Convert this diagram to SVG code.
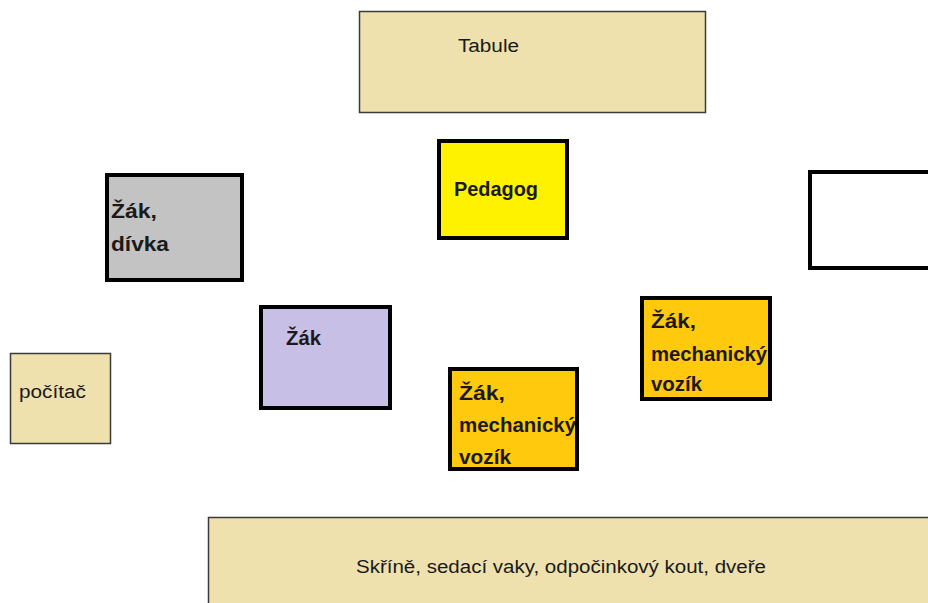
<svg xmlns="http://www.w3.org/2000/svg" width="928" height="603" viewBox="0 0 928 603">
<style>
.furn{fill:#EEE1AE;stroke:#3a3a3a;stroke-width:1.5}
.desk{stroke:#000;stroke-width:4}
.t{font-family:"Liberation Sans",Arial,sans-serif;fill:#1a1a1a}
.b{font-weight:bold;font-size:20px}
.n{font-size:18px}
</style>
<rect width="928" height="603" fill="#fff"/>
<g id="tabule">
<rect class="furn" x="359.5" y="11.5" width="346" height="101"/>
<text class="t n" x="458" y="52" textLength="61" lengthAdjust="spacingAndGlyphs">Tabule</text>
</g>
<g id="pedagog">
<rect class="desk" x="439" y="141" width="128" height="97" fill="#FFF200"/>
<text class="t b" x="454" y="196" textLength="84" lengthAdjust="spacingAndGlyphs">Pedagog</text>
</g>
<g id="zak-divka">
<rect class="desk" x="107" y="175" width="135" height="105" fill="#C3C3C3"/>
<text class="t b" x="111" y="218" textLength="46" lengthAdjust="spacingAndGlyphs">Žák,</text>
<text class="t b" x="111" y="251" textLength="58" lengthAdjust="spacingAndGlyphs">dívka</text>
</g>
<g id="prazdny">
<rect class="desk" x="810" y="172" width="130" height="96" fill="#fff"/>
</g>
<g id="zak">
<rect class="desk" x="261" y="307" width="129" height="101" fill="#C8BFE6"/>
<text class="t b" x="286" y="345" textLength="35" lengthAdjust="spacingAndGlyphs">Žák</text>
</g>
<g id="zak-vozik-1">
<rect class="desk" x="642" y="298" width="128" height="101" fill="#FFC90E"/>
<text class="t b" x="651" y="328" textLength="45" lengthAdjust="spacingAndGlyphs">Žák,</text>
<text class="t b" x="651" y="361" textLength="116" lengthAdjust="spacingAndGlyphs">mechanický</text>
<text class="t b" x="651" y="391" textLength="51" lengthAdjust="spacingAndGlyphs">vozík</text>
</g>
<g id="zak-vozik-2">
<rect class="desk" x="450" y="369" width="127" height="100" fill="#FFC90E"/>
<text class="t b" x="459" y="400" textLength="46" lengthAdjust="spacingAndGlyphs">Žák,</text>
<text class="t b" x="459" y="432" textLength="117" lengthAdjust="spacingAndGlyphs">mechanický</text>
<text class="t b" x="459" y="464" textLength="52" lengthAdjust="spacingAndGlyphs">vozík</text>
</g>
<g id="pocitac">
<rect class="furn" x="10.5" y="353.5" width="100" height="90"/>
<text class="t n" x="19" y="398" textLength="67" lengthAdjust="spacingAndGlyphs">počítač</text>
</g>
<g id="skrine">
<rect class="furn" x="208.5" y="517.5" width="730" height="95"/>
<text class="t n" x="356" y="573" textLength="410" lengthAdjust="spacingAndGlyphs">Skříně, sedací vaky, odpočinkový kout, dveře</text>
</g>
<g id="connectors"/>
</svg>
